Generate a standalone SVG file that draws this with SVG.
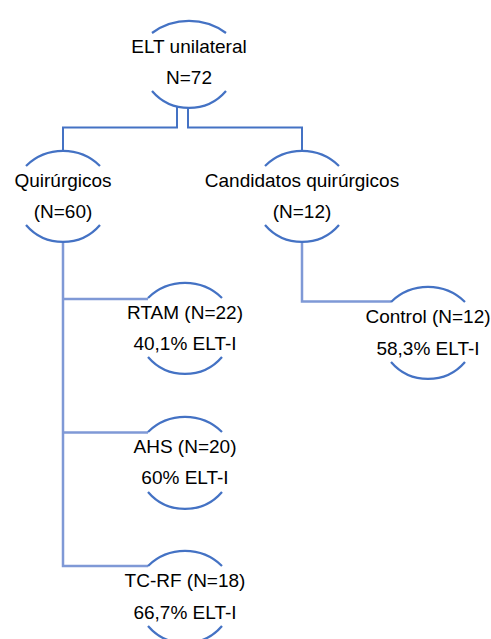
<svg xmlns="http://www.w3.org/2000/svg" width="491" height="639" viewBox="0 0 491 639">
<style>
  .arc{fill:none;stroke:#4472C4;stroke-width:2.25}
  .c1{fill:none;stroke:#4472C4;stroke-width:2}
  .c2{fill:none;stroke:#7F99D6;stroke-width:2.5}
  text{font-family:"Liberation Sans",Arial,sans-serif;font-size:19px;fill:#000;text-anchor:middle}
</style>
<rect width="491" height="639" fill="#fff"/>
<g id="connectors">
  <path class="c1" d="M177,107 V127.5 H63 V151"/>
  <path class="c1" d="M188,107 V127.5 H302 V151"/>
  <path class="c2" d="M63,242 V566 H148"/>
  <path class="c2" d="M63,299 H148"/>
  <path class="c2" d="M63,432.5 H148"/>
  <path class="c2" d="M302,241 V301.5 H391"/>
</g>
<g id="node-elt">
  <path class="arc" d="M152,33 A63,63 0 0 1 226,33"/>
  <path class="arc" d="M152,91 A48.8,48.8 0 0 0 226,91"/>
  <text x="189" y="53">ELT unilateral</text>
  <text x="189" y="84">N=72</text>
</g>
<g id="node-quirurgicos">
  <path class="arc" d="M26,166 A53.1,53.1 0 0 1 100,166"/>
  <path class="arc" d="M26,225 A48.8,48.8 0 0 0 100,225"/>
  <text x="63" y="187">Quirúrgicos</text>
  <text x="63" y="218">(N=60)</text>
</g>
<g id="node-candidatos">
  <path class="arc" d="M265,166 A53.1,53.1 0 0 1 339,166"/>
  <path class="arc" d="M265,225 A48.8,48.8 0 0 0 339,225"/>
  <text x="302" y="187">Candidatos quirúrgicos</text>
  <text x="302" y="218">(N=12)</text>
</g>
<g id="node-rtam">
  <path class="arc" d="M148,298 A53.1,53.1 0 0 1 222,298"/>
  <path class="arc" d="M148,357 A48.8,48.8 0 0 0 222,357"/>
  <text x="185" y="319">RTAM (N=22)</text>
  <text x="185" y="350">40,1% ELT-I</text>
</g>
<g id="node-ahs">
  <path class="arc" d="M148,432 A53.1,53.1 0 0 1 222,432"/>
  <path class="arc" d="M148,492 A48.8,48.8 0 0 0 222,492"/>
  <text x="185" y="453">AHS (N=20)</text>
  <text x="185" y="484">60% ELT-I</text>
</g>
<g id="node-tcrf">
  <path class="arc" d="M148,566 A53.1,53.1 0 0 1 222,566"/>
  <path class="arc" d="M148,626 A48.8,48.8 0 0 0 222,626"/>
  <text x="185" y="587">TC-RF (N=18)</text>
  <text x="185" y="619">66,7% ELT-I</text>
</g>
<g id="node-control">
  <path class="arc" d="M391,302 A53.1,53.1 0 0 1 465,302"/>
  <path class="arc" d="M391,362 A48.8,48.8 0 0 0 465,362"/>
  <text x="428" y="323">Control (N=12)</text>
  <text x="428" y="355">58,3% ELT-I</text>
</g>
</svg>
